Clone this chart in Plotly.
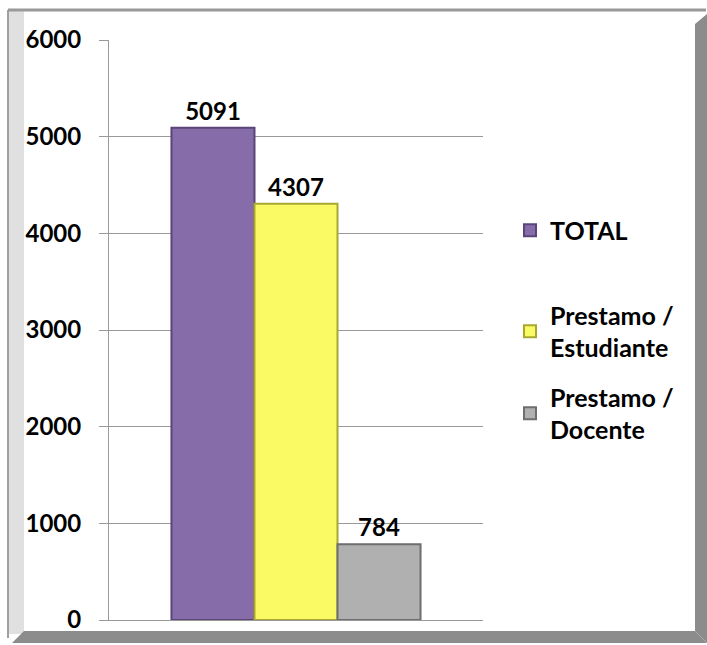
import plotly.graph_objects as go

# values
series = ['TOTAL', 'Prestamo /<br>Estudiante', 'Prestamo /<br>Docente']
values = [5091, 4307, 784]
colors = ['#866CA8', '#FAFA64', '#B0B0B0']
edges = ['#5B4478', '#A8A830', '#6E6E6E']
y_ticks = [0, 1000, 2000, 3000, 4000, 5000, 6000]

W, H = 707, 645
L, R, T, B = 109, 224, 40, 23
pw, ph = W - L - R, H - T - B


def px(x):
    return (x - L) / pw


def py(y):
    return (H - B - y) / ph


FONT = 'Lato'

fig = go.Figure()
for i, (name, v, c, e) in enumerate(zip(series, values, colors, edges)):
    fig.add_trace(go.Bar(x=[''], y=[v], name=name,
                         marker=dict(color=c, line=dict(color=e, width=2)),
                         text=[str(v)], textposition='outside',
                         textfont=dict(family=FONT, size=24, color='black', weight='bold'),
                         cliponaxis=False, legendgroup=name,
                         legend='legend' if i == 0 else 'legend2'))

# chart frame (bevelled border)
frame = [
    dict(type='rect', x0=px(8), x1=px(24), y0=py(11), y1=py(636),
         fillcolor='#E0E0E0', line_width=0),
    dict(type='line', x0=px(8), x1=px(8), y0=py(10), y1=py(640),
         line=dict(color='#A0A0A0', width=2)),
    dict(type='line', x0=px(8), x1=px(706), y0=py(10), y1=py(10),
         line=dict(color='#999999', width=3)),
    dict(type='path', path='M %f,%f L %f,%f L %f,%f L %f,%f Z' % (
        px(695), py(24), px(707), py(14), px(707), py(645), px(695), py(633)),
         fillcolor='#8C8C8C', line_width=0),
    dict(type='path', path='M %f,%f L %f,%f L %f,%f L %f,%f Z' % (
        px(24), py(633), px(695), py(633), px(707), py(645), px(12), py(645)),
         fillcolor='#8C8C8C', line_width=0),
]
for s in frame:
    s.update(xref='paper', yref='paper', layer='below')

legend_font = dict(family=FONT, size=25, color='black', weight='bold')

fig.update_layout(
    width=W, height=H,
    margin=dict(l=L, r=R, t=T, b=B),
    paper_bgcolor='white', plot_bgcolor='white',
    barmode='group', bargap=0.334, bargroupgap=0,
    shapes=frame,
    showlegend=True,
    legend=dict(x=px(510), y=py(208), xanchor='left', yanchor='top',
                font=legend_font, bgcolor='rgba(0,0,0,0)', itemclick=False),
    legend2=dict(x=px(510), y=py(293), xanchor='left', yanchor='top',
                 font=legend_font, traceorder='grouped', tracegroupgap=14,
                 bgcolor='rgba(0,0,0,0)', itemclick=False),
    xaxis=dict(showticklabels=False, showline=True, linecolor='#999999',
               linewidth=1, ticks='', fixedrange=True),
    yaxis=dict(range=[0, 6000], tickvals=y_ticks, showgrid=True,
               gridcolor='#999999', gridwidth=1, showline=True,
               linecolor='#999999', linewidth=1, ticks='outside',
               ticklen=9, tickcolor='#999999', zeroline=False,
               tickfont=dict(family=FONT, size=24, color='black', weight='bold'),
               ticklabelstandoff=13),
)

fig.write_html("out.html", config={'displayModeBar': False},
               post_script="document.body.style.margin='0';")
